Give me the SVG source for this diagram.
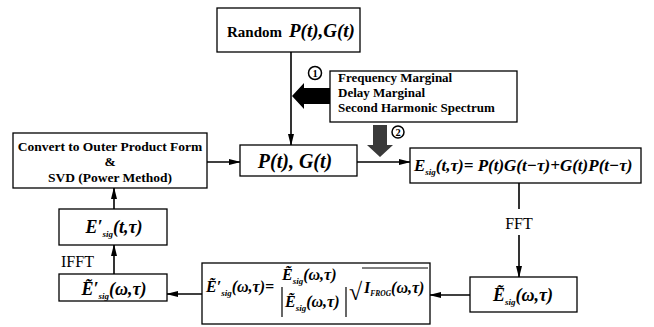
<svg xmlns="http://www.w3.org/2000/svg" width="654" height="327" viewBox="0 0 654 327">
<defs>
<marker id="ah" markerWidth="12" markerHeight="8" refX="11" refY="4" orient="auto" markerUnits="userSpaceOnUse">
<path d="M0,1 L12,4 L0,7 Z" fill="#000"/>
</marker>
<style>
.box{fill:#fff;stroke:#000;stroke-width:1.3}
.ln{fill:none;stroke:#000;stroke-width:1.6;marker-end:url(#ah)}
.lb{font-family:"Liberation Serif","Times New Roman",serif;font-weight:bold;fill:#000}
.m{font-family:"Liberation Serif","Times New Roman",serif;font-weight:bold;font-style:italic;fill:#000}
.rm{font-family:"Liberation Serif","Times New Roman",serif;fill:#000}
.sub{font-size:9px}
</style>
</defs>
<rect width="654" height="327" fill="#fff"/>

<g id="connectors">
<line class="ln" x1="291" y1="52" x2="291" y2="145"/>
<line class="ln" x1="207" y1="162" x2="240" y2="162"/>
<line class="ln" x1="357" y1="162" x2="410" y2="162"/>
<line class="ln" x1="519" y1="183" x2="519" y2="209" style="marker-end:none"/>
<line class="ln" x1="519" y1="235" x2="519" y2="277"/>
<line class="ln" x1="470" y1="295" x2="430" y2="295"/>
<line class="ln" x1="202" y1="294" x2="167" y2="294"/>
<line class="ln" x1="114" y1="274" x2="114" y2="245"/>
<line class="ln" x1="114" y1="209" x2="114" y2="188"/>
<text class="rm" x="519" y="229" font-size="16" text-anchor="middle">FFT</text>
<text class="rm" x="61" y="267" font-size="16">IFFT</text>
<polygon points="292,96 304,83 304,88 330,88 330,104 304,104 304,109" fill="#000"/>
<circle cx="315" cy="73" r="6.5" fill="#fff" stroke="#000" stroke-width="1.5"/>
<text class="lb" x="315" y="77" font-size="10.5" text-anchor="middle">1</text>
<polygon points="373,125 387,125 387,145 393,145 380,157 367,145 373,145" fill="#3a3a3a"/>
<circle cx="398" cy="132" r="6" fill="#fff" stroke="#000" stroke-width="1.5"/>
<text class="lb" x="398" y="136" font-size="10.5" text-anchor="middle">2</text>
</g>

<g id="random">
<rect class="box" x="217" y="8" width="143" height="44"/>
<text x="227" y="37"><tspan class="lb" font-size="15">Random</tspan><tspan class="m" font-size="19" x="289">P(t),G(t)</tspan></text>
</g>

<g id="constraints">
<rect class="box" x="330" y="71" width="187" height="51"/>
<text class="lb" x="338" y="82" font-size="13">Frequency Marginal</text>
<text class="lb" x="338" y="97" font-size="13">Delay Marginal</text>
<text class="lb" x="338" y="112" font-size="13">Second Harmonic Spectrum</text>
</g>

<g id="pg">
<rect class="box" x="240" y="145" width="117" height="31"/>
<text class="m" x="295" y="168" font-size="20" text-anchor="middle">P(t),  G(t)</text>
</g>

<g id="esig">
<rect class="box" x="410" y="148" width="231" height="35"/>
<text class="m" x="414" y="171" font-size="17">E<tspan class="sub" dy="4">sig</tspan><tspan dy="-4">(t,τ)= P(t)G(t−τ)+G(t)P(t−τ)</tspan></text>
</g>

<g id="convert">
<rect class="box" x="13" y="133" width="194" height="55"/>
<text class="lb" x="110" y="151" font-size="13.5" text-anchor="middle">Convert to Outer Product Form</text>
<text class="lb" x="110" y="166" font-size="13.5" text-anchor="middle">&amp;</text>
<text class="lb" x="110" y="182" font-size="13.5" text-anchor="middle">SVD (Power Method)</text>
</g>

<g id="eprime_t">
<rect class="box" x="59" y="209" width="108" height="36"/>
<text class="m" x="114" y="233" font-size="18" text-anchor="middle">E′<tspan class="sub" dy="4">sig</tspan><tspan dy="-4">(t,τ)</tspan></text>
</g>

<g id="eprime_w">
<rect class="box" x="59" y="274" width="108" height="27"/>
<text class="m" x="114" y="295" font-size="18" text-anchor="middle">Ẽ′<tspan class="sub" dy="4">sig</tspan><tspan dy="-4">(ω,τ)</tspan></text>
</g>

<g id="formula">
<rect class="box" x="202" y="263" width="228" height="61"/>
<text class="m" x="206" y="292" font-size="16">Ẽ′<tspan class="sub" dy="4">sig</tspan><tspan dy="-4">(ω,τ)=</tspan></text>
<text class="m" x="282" y="280" font-size="16">Ẽ<tspan class="sub" dy="4">sig</tspan><tspan dy="-4">(ω,τ)</tspan></text>
<text class="m" x="285" y="307" font-size="16">Ẽ<tspan class="sub" dy="4">sig</tspan><tspan dy="-4">(ω,τ)</tspan></text>
<line x1="282" y1="287" x2="282" y2="317" stroke="#000" stroke-width="1.2"/>
<line x1="346" y1="287" x2="346" y2="317" stroke="#000" stroke-width="1.2"/>
<text class="rm" x="349" y="300" font-size="24">√</text>
<line x1="362" y1="268" x2="428" y2="268" stroke="#000" stroke-width="1"/>
<text class="m" x="364" y="293" font-size="16">I<tspan font-size="7.5" dy="3">FROG</tspan><tspan dy="-3">(ω,τ)</tspan></text>
</g>

<g id="etilde">
<rect class="box" x="470" y="277" width="107" height="35"/>
<text class="m" x="523" y="301" font-size="18" text-anchor="middle">Ẽ<tspan class="sub" dy="4">sig</tspan><tspan dy="-4">(ω,τ)</tspan></text>
</g>
</svg>
